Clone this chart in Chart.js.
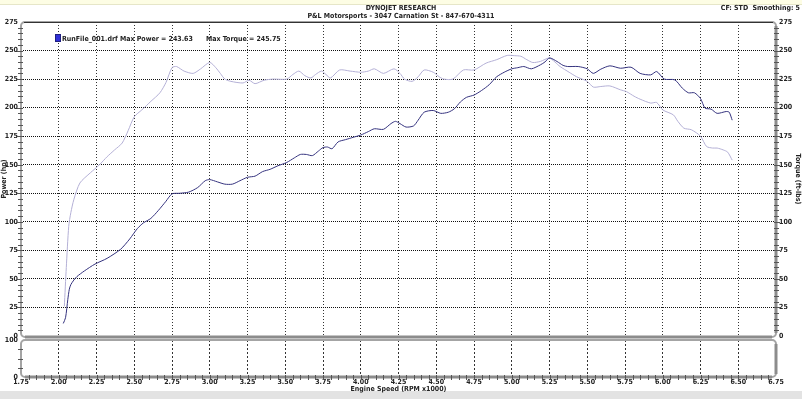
<!DOCTYPE html>
<html><head><meta charset="utf-8">
<script src="https://cdn.jsdelivr.net/npm/chart.js@4.4.1/dist/chart.umd.min.js"></script>
<style>
html,body{margin:0;padding:0;background:#fff;}
#wrap{position:relative;width:802px;height:399px;overflow:hidden;background:#fff;font-family:'DejaVu Sans Condensed','Liberation Sans Narrow',sans-serif;font-weight:bold;color:#222;}
canvas{position:absolute;left:0;top:0;}
.t{position:absolute;font-size:7px;white-space:nowrap;line-height:8px;}
</style></head><body>
<div id="wrap">
<div style="position:absolute;left:0;top:0;width:802px;height:4px;background:#fdfde4;border-bottom:1px solid #e6e6c8"></div>
<div style="position:absolute;left:0;top:391px;width:802px;height:8px;background:#e3e3e3"></div>
<canvas id="main" width="802" height="399"></canvas>
<canvas id="low" width="802" height="399"></canvas>
<div class="t" style="left:0;width:802px;text-align:center;top:4px">DYNOJET RESEARCH</div>
<div class="t" style="left:0;width:802px;text-align:center;top:12px">P&amp;L Motorsports - 3047 Carnation St - 847-670-4311</div>
<div class="t" style="right:2px;top:4px">CF: STD&nbsp; Smoothing: 5</div>
<div class="t" style="left:55px;top:34px"><span style="display:inline-block;width:4px;height:6px;background:#3030d8;border:1px solid #202080;vertical-align:-1px;margin-right:1px"></span>RunFile_001.drf Max Power = 243.63 &nbsp;&nbsp;&nbsp;&nbsp; Max Torque = 245.75</div>
</div>
<script>
// ---- data ----
const rpmPower = [2.03,2.045,2.06,2.07,2.08,2.10,2.12,2.17,2.24,2.32,2.41,2.47,2.52,2.56,2.61,2.66,2.71,2.75,2.80,2.86,2.92,2.97,3.00,3.05,3.10,3.15,3.20,3.25,3.30,3.35,3.40,3.45,3.51,3.56,3.60,3.64,3.68,3.72,3.75,3.78,3.81,3.85,3.90,3.95,4.00,4.05,4.09,4.15,4.20,4.23,4.26,4.30,4.35,4.38,4.42,4.48,4.53,4.58,4.62,4.66,4.70,4.75,4.80,4.85,4.90,4.95,5.00,5.04,5.08,5.13,5.19,5.22,5.25,5.30,5.34,5.37,5.44,5.50,5.54,5.59,5.65,5.72,5.79,5.85,5.92,5.96,6.01,6.08,6.13,6.17,6.21,6.25,6.28,6.32,6.36,6.42,6.44,6.46];
const powerHp = [11,16,32,41,45,49,52,57,63,68,76,85,94,99,103,110,118,124.5,125,126,130,136,137,135,133,133,136,139,140,144,146,149,152,156,159,159,158,162,165,165.5,164,170,172,174,176,179,181.5,181,186,188,186,183,184,189,196,197.5,195,196,199,205,209,211,215,220,227,231,234,235,236,234,237.5,240,243.6,240.4,237,236,236,234,230,233.7,236.6,234.5,235.4,230,228.7,231.6,225,224.3,217,213,213,208,199.6,198.7,195,196.6,196,189];
const rpmTorque = [2.037,2.05,2.066,2.08,2.10,2.14,2.21,2.27,2.32,2.37,2.42,2.46,2.50,2.55,2.61,2.67,2.71,2.75,2.78,2.83,2.89,2.94,3.00,3.04,3.07,3.10,3.14,3.22,3.26,3.30,3.36,3.42,3.51,3.55,3.59,3.63,3.67,3.70,3.74,3.77,3.80,3.86,3.93,4.00,4.05,4.09,4.15,4.22,4.26,4.29,4.34,4.38,4.42,4.48,4.52,4.55,4.61,4.68,4.75,4.83,4.90,4.97,5.02,5.06,5.10,5.14,5.19,5.25,5.32,5.38,5.43,5.50,5.54,5.59,5.65,5.72,5.76,5.81,5.85,5.92,5.96,6.00,6.07,6.10,6.14,6.19,6.25,6.29,6.33,6.36,6.40,6.43,6.46];
const torqueFtLbs = [26,60,96,108,119.5,134,143,150,157,163,169,180,192,198,205.5,213,222,235,236,232,230,234,239.6,235,230,225,223,221.6,224,221,224,225,225,229,232,228,226,229,232,229,226,233,232,231,232,234,230,234,230,225,223,227,233,231,227,225,225,233,233,239,242,245.75,245.5,245,242,239.5,240.5,243.3,236,231,227,223,218,218.5,219,215.6,214,210,207.4,204,204.5,198,193.7,188,182,180.6,175,166,164.6,164.6,163,161,154];
const xMin = 1.75, xMax = 6.75, xStep = 0.25;
const mainMin = 0, mainMax = 275, mainStep = 25;
const lowMin = 0, lowMax = 100;

const FONT = "'DejaVu Sans Condensed','Liberation Sans Narrow',sans-serif";
Chart.defaults.font.family = FONT;
Chart.defaults.font.size = 7;
Chart.defaults.font.weight = 'bold';
Chart.defaults.color = '#222';

const fmtX = v => Number(v).toFixed(2);
const gridCol = (lo, hi, col) => c => (Math.abs(c.tick.value - lo) < 1e-6 || Math.abs(c.tick.value - hi) < 1e-6) ? 'rgba(0,0,0,0)' : col;

function rrect(ctx, l, t, r, b, rad) {
  ctx.beginPath();
  ctx.moveTo(l + rad, t);
  ctx.lineTo(r - rad, t); ctx.arcTo(r, t, r, t + rad, rad);
  ctx.lineTo(r, b - rad); ctx.arcTo(r, b, r - rad, b, rad);
  ctx.lineTo(l + rad, b); ctx.arcTo(l, b, l, b - rad, rad);
  ctx.lineTo(l, t + rad); ctx.arcTo(l, t, l + rad, t, rad);
  ctx.closePath();
}

const mainFrame = {
  id: 'mainFrame',
  afterDraw(chart) {
    const { ctx, chartArea: a } = chart;
    const ys = chart.scales.y;
    ctx.save();
    ctx.strokeStyle = '#a4a4a4'; ctx.lineWidth = 2;
    rrect(ctx, a.left, a.top, a.right, a.bottom + 1, 4); ctx.stroke();
    ctx.strokeStyle = '#8c8c8c'; ctx.lineWidth = 3;
    ctx.beginPath(); ctx.moveTo(a.right, a.top + 4); ctx.lineTo(a.right, a.bottom - 3); ctx.stroke();
    ctx.beginPath(); ctx.moveTo(a.left + 4, a.bottom + 1); ctx.lineTo(a.right - 4, a.bottom + 1); ctx.stroke();
    ctx.strokeStyle = '#333'; ctx.lineWidth = 1;
    ctx.beginPath(); ctx.moveTo(a.left + 3, a.top + 0.5); ctx.lineTo(a.right - 3, a.top + 0.5); ctx.stroke();
    ctx.strokeStyle = '#555'; ctx.lineWidth = 1;
    for (let v = mainMin; v <= mainMax; v += 5) {
      const y = Math.round(ys.getPixelForValue(v)) + 0.5;
      const major = v % 25 === 0;
      if (v === 0 || v === 275) continue;
      ctx.beginPath();
      ctx.moveTo(a.left - (major ? 4 : 3), y); ctx.lineTo(a.left + 2, y);
      ctx.moveTo(a.right - 2, y); ctx.lineTo(a.right + (major ? 4 : 3), y);
      ctx.stroke();
    }
    ctx.restore();
  }
};

const lowFrame = {
  id: 'lowFrame',
  afterDraw(chart) {
    const { ctx, chartArea: a } = chart;
    const ys = chart.scales.y, xs = chart.scales.x;
    ctx.save();
    ctx.strokeStyle = '#a4a4a4'; ctx.lineWidth = 2;
    rrect(ctx, a.left, a.top, a.right, a.bottom, 4); ctx.stroke();
    ctx.strokeStyle = '#8c8c8c'; ctx.lineWidth = 3;
    ctx.beginPath(); ctx.moveTo(a.right, a.top + 4); ctx.lineTo(a.right, a.bottom - 3); ctx.stroke();
    ctx.beginPath(); ctx.moveTo(a.left + 4, a.bottom); ctx.lineTo(a.right - 4, a.bottom); ctx.stroke();
    ctx.strokeStyle = '#555'; ctx.lineWidth = 1;
    for (let v = 25; v < lowMax; v += 25) {
      const y = Math.round(ys.getPixelForValue(v)) + 0.5;
      ctx.beginPath(); ctx.moveTo(a.left - 3, y); ctx.lineTo(a.left + 2, y); ctx.stroke();
    }
    for (let i = 1; i < 100; i++) {
      const v = xMin + i * 0.05;
      const x = Math.round(xs.getPixelForValue(v)) + 0.5;
      ctx.beginPath(); ctx.moveTo(x, a.bottom - 2); ctx.lineTo(x, a.bottom + 3); ctx.stroke();
    }
    ctx.restore();
  }
};

const toXY = (xs, ys) => xs.map((x, i) => ({ x, y: ys[i] }));

new Chart(document.getElementById('main'), {
  type: 'line',
  data: {
    datasets: [
      { label: 'Power (hp)', data: toXY(rpmPower, powerHp), yAxisID: 'y', borderColor: '#34327e', borderWidth: 1, pointRadius: 0, tension: 0.25, fill: false },
      { label: 'Torque (ft-lbs)', data: toXY(rpmTorque, torqueFtLbs), yAxisID: 'y2', borderColor: '#b4b0d6', borderWidth: 1, pointRadius: 0, tension: 0.25, fill: false }
    ]
  },
  options: {
    responsive: false, animation: false, devicePixelRatio: 1,
    layout: { padding: { top: 22, bottom: 63, left: 0, right: 0 } },
    plugins: { legend: { display: false }, tooltip: { enabled: false } },
    scales: {
      x: {
        type: 'linear', min: xMin, max: xMax,
        ticks: { stepSize: xStep, display: false },
        grid: { color: gridCol(xMin, xMax, '#333'), drawTicks: false, lineWidth: 1 },
        border: { display: false, dash: [1, 2] },
        afterFit: s => { s.height = 0; }
      },
      y: {
        position: 'left', min: mainMin, max: mainMax,
        ticks: { stepSize: mainStep, padding: 3 },
        grid: { color: gridCol(mainMin, mainMax, '#111'), drawTicks: false },
        border: { display: false, dash: [1, 1] },
        title: { display: true, text: 'Power (hp)', padding: 0, font: { size: 7, weight: 'bold' } },
        afterFit: s => { s.width = 21; }
      },
      y2: {
        position: 'right', min: mainMin, max: mainMax,
        ticks: { stepSize: mainStep, padding: 3 },
        grid: { display: false, drawTicks: false },
        border: { display: false },
        title: { display: true, text: 'Torque (ft-lbs)', padding: 0, font: { size: 7, weight: 'bold' } },
        afterFit: s => { s.width = 26; }
      }
    }
  },
  plugins: [mainFrame]
});

new Chart(document.getElementById('low'), {
  type: 'line',
  data: { datasets: [] },
  options: {
    responsive: false, animation: false, devicePixelRatio: 1,
    layout: { padding: { top: 340, bottom: 6, left: 0, right: 26 } },
    plugins: { legend: { display: false }, tooltip: { enabled: false } },
    scales: {
      x: {
        type: 'linear', min: xMin, max: xMax,
        ticks: { stepSize: xStep, padding: 1, maxRotation: 0, autoSkip: false, callback: fmtX },
        grid: { color: gridCol(xMin, xMax, '#333'), drawTicks: false },
        border: { display: false, dash: [2, 2] },
        title: { display: true, text: 'Engine Speed (RPM x1000)', padding: 0, font: { size: 7, weight: 'bold' } },
        afterFit: s => { s.height = 16; }
      },
      y: {
        position: 'left', min: lowMin, max: lowMax,
        ticks: { stepSize: 100, padding: 3 },
        grid: { display: false, drawTicks: false },
        border: { display: false },
        afterFit: s => { s.width = 21; }
      }
    }
  },
  plugins: [lowFrame]
});
</script>
</body></html>
